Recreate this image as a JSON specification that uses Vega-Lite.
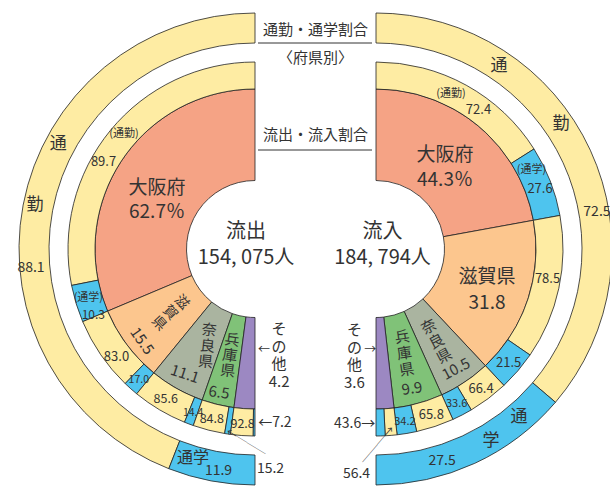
{
"$schema":"https://vega.github.io/schema/vega-lite/v6.json",
"width":610,"height":487,"autosize":"none","padding":0,"background":"white",
"config":{"view":{"stroke":null},"text":{"font":"Noto Sans CJK JP","color":"#333333"},"arc":{"stroke":"#222222","strokeWidth":0.8},"rule":{"color":"#333333"}},
"datasets":{
"inner":[
{"side":"流出","pref":"大阪府","share":62.7,"ord":1},
{"side":"流出","pref":"滋賀県","share":15.5,"ord":2},
{"side":"流出","pref":"奈良県","share":11.1,"ord":3},
{"side":"流出","pref":"兵庫県","share":6.5,"ord":4},
{"side":"流出","pref":"その他","share":4.2,"ord":5},
{"side":"流入","pref":"大阪府","share":44.3,"ord":1},
{"side":"流入","pref":"滋賀県","share":31.8,"ord":2},
{"side":"流入","pref":"奈良県","share":10.5,"ord":3},
{"side":"流入","pref":"兵庫県","share":9.9,"ord":4},
{"side":"流入","pref":"その他","share":3.6,"ord":5}
],
"mid":[
{"side":"流出","pref":"大阪府","type":"通勤","pct":89.7,"part":56.24,"ord":1},
{"side":"流出","pref":"大阪府","type":"通学","pct":10.3,"part":6.46,"ord":2},
{"side":"流出","pref":"滋賀県","type":"通勤","pct":83.0,"part":12.87,"ord":3},
{"side":"流出","pref":"滋賀県","type":"通学","pct":17.0,"part":2.63,"ord":4},
{"side":"流出","pref":"奈良県","type":"通勤","pct":85.6,"part":9.50,"ord":5},
{"side":"流出","pref":"奈良県","type":"通学","pct":14.4,"part":1.60,"ord":6},
{"side":"流出","pref":"兵庫県","type":"通勤","pct":84.8,"part":5.51,"ord":7},
{"side":"流出","pref":"兵庫県","type":"通学","pct":15.2,"part":0.99,"ord":8},
{"side":"流出","pref":"その他","type":"通勤","pct":92.8,"part":3.90,"ord":9},
{"side":"流出","pref":"その他","type":"通学","pct":7.2,"part":0.30,"ord":10},
{"side":"流入","pref":"大阪府","type":"通勤","pct":72.4,"part":32.07,"ord":1},
{"side":"流入","pref":"大阪府","type":"通学","pct":27.6,"part":12.23,"ord":2},
{"side":"流入","pref":"滋賀県","type":"通勤","pct":78.5,"part":24.96,"ord":3},
{"side":"流入","pref":"滋賀県","type":"通学","pct":21.5,"part":6.84,"ord":4},
{"side":"流入","pref":"奈良県","type":"通勤","pct":66.4,"part":6.97,"ord":5},
{"side":"流入","pref":"奈良県","type":"通学","pct":33.6,"part":3.53,"ord":6},
{"side":"流入","pref":"兵庫県","type":"通勤","pct":65.8,"part":6.51,"ord":7},
{"side":"流入","pref":"兵庫県","type":"通学","pct":34.2,"part":3.39,"ord":8},
{"side":"流入","pref":"その他","type":"通勤","pct":56.4,"part":2.03,"ord":9},
{"side":"流入","pref":"その他","type":"通学","pct":43.6,"part":1.57,"ord":10}
],
"outer":[
{"side":"流出","type":"通勤","pct":88.1,"ord":1},
{"side":"流出","type":"通学","pct":11.9,"ord":2},
{"side":"流入","type":"通勤","pct":72.5,"ord":1},
{"side":"流入","type":"通学","pct":27.5,"ord":2}
],
"totals":[
{"side":"流出","people":154075},
{"side":"流入","people":184794}
]
},
"encoding":{
"x":{"field":"side","type":"nominal","scale":{"type":"band","domain":["流出","中","流入"],"range":[224.75,406.25],"padding":0},"axis":null},
"y":{"field":"side","type":"nominal","scale":{"type":"band","domain":["流出","中","流入"],"range":[249,249],"padding":0},"axis":null}
},
"resolve":{"scale":{"theta":"independent"}},
"layer":[
{
"data":{"name":"inner"},
"transform":[{"filter":"datum.side === '流出'"}],
"encoding":{"theta":{"field":"share","type":"quantitative","stack":true,"scale":{"domain":[0,100],"range":[0,-3.14159265]}},"order":{"field":"ord","type":"quantitative"}},
"layer":[
{"mark":{"type":"arc","radius":160,"radius2":68.5},"encoding":{"color":{"field":"pref","type":"nominal","legend":null,"scale":{"domain":["大阪府","滋賀県","奈良県","兵庫県","その他","通勤","通学"],"range":["#F5A385","#FCC68E","#AAB4A0","#80C278","#9C88C2","#FEECA3","#4EC4EE"]}}}},
{"mark":{"type":"text","radius":109.6,"fontSize":19,"lineHeight":24,"dy":-12},"encoding":{"theta":{"field":"share","type":"quantitative","stack":true,"bandPosition":0.562,"scale":{"domain":[0,100],"range":[0,-3.14159265]}},"text":{"value":{"expr":"datum.pref === '大阪府' ? [datum.pref, format(datum.share, '.1f') + '％'] : ''"}}}},
{"mark":{"type":"text","radius":106.4,"angle":47,"fontSize":14,"lineHeight":15.5,"dy":-15.5},"encoding":{"theta":{"field":"share","type":"quantitative","stack":true,"bandPosition":0.506,"scale":{"domain":[0,100],"range":[0,-3.14159265]}},"text":{"value":{"expr":"datum.pref === '滋賀県' ? split(datum.pref, '') : ''"}}}},
{"mark":{"type":"text","radius":145.7,"angle":55,"fontSize":15},"encoding":{"theta":{"field":"share","type":"quantitative","stack":true,"bandPosition":0.584,"scale":{"domain":[0,100],"range":[0,-3.14159265]}},"text":{"field":"share","type":"quantitative","format":".1f","condition":{"test":"datum.pref !== '滋賀県'","value":""}}}},
{"mark":{"type":"text","radius":108,"angle":6,"fontSize":15,"lineHeight":16,"dy":-16},"encoding":{"theta":{"field":"share","type":"quantitative","stack":true,"bandPosition":0.658,"scale":{"domain":[0,100],"range":[0,-3.14159265]}},"text":{"value":{"expr":"datum.pref === '奈良県' ? split(datum.pref, '') : ''"}}}},
{"mark":{"type":"text","radius":143.3,"angle":18,"fontSize":15},"encoding":{"theta":{"field":"share","type":"quantitative","stack":true,"bandPosition":0.5,"scale":{"domain":[0,100],"range":[0,-3.14159265]}},"text":{"field":"share","type":"quantitative","format":".1f","condition":{"test":"datum.pref !== '奈良県'","value":""}}}},
{"mark":{"type":"text","radius":109.4,"angle":8,"fontSize":15,"lineHeight":15.5,"dy":-15.5},"encoding":{"theta":{"field":"share","type":"quantitative","stack":true,"bandPosition":0.517,"scale":{"domain":[0,100],"range":[0,-3.14159265]}},"text":{"value":{"expr":"datum.pref === '兵庫県' ? split(datum.pref, '') : ''"}}}},
{"mark":{"type":"text","radius":148,"angle":8,"fontSize":15},"encoding":{"theta":{"field":"share","type":"quantitative","stack":true,"bandPosition":0.443,"scale":{"domain":[0,100],"range":[0,-3.14159265]}},"text":{"field":"share","type":"quantitative","format":".1f","condition":{"test":"datum.pref !== '兵庫県'","value":""}}}},
{"mark":{"type":"text","radius":105,"dx":31,"dy":-24.75,"fontSize":15,"lineHeight":17.5},"encoding":{"theta":{"field":"share","type":"quantitative","stack":true,"scale":{"domain":[0,100],"range":[0,-3.14159265]}},"text":{"value":{"expr":"datum.pref === 'その他' ? [substring(datum.pref,0,1), substring(datum.pref,1,2), substring(datum.pref,2,3), format(datum.share,'.1f')] : ''"}}}},
{"mark":{"type":"text","radius":105,"dx":16,"dy":-3.8,"fontSize":12},"encoding":{"theta":{"field":"share","type":"quantitative","stack":true,"scale":{"domain":[0,100],"range":[0,-3.14159265]}},"text":{"value":{"expr":"datum.pref === 'その他' ? '←' : ''"}}}}
]
},
{
"data":{"name":"inner"},
"transform":[{"filter":"datum.side === '流入'"}],
"encoding":{"theta":{"field":"share","type":"quantitative","stack":true,"scale":{"domain":[0,100.1],"range":[0,3.14159265]}},"order":{"field":"ord","type":"quantitative"}},
"layer":[
{"mark":{"type":"arc","radius":160,"radius2":68.5},"encoding":{"color":{"field":"pref","type":"nominal","legend":null,"scale":{"domain":["大阪府","滋賀県","奈良県","兵庫県","その他","通勤","通学"],"range":["#F5A385","#FCC68E","#AAB4A0","#80C278","#9C88C2","#FEECA3","#4EC4EE"]}}}},
{"mark":{"type":"text","radius":106.8,"fontSize":19,"lineHeight":25,"dy":-12.5},"encoding":{"theta":{"field":"share","type":"quantitative","stack":true,"bandPosition":0.505,"scale":{"domain":[0,100.1],"range":[0,3.14159265]}},"text":{"value":{"expr":"datum.pref === '大阪府' ? [datum.pref, format(datum.share, '.1f') + '％'] : ''"}}}},
{"mark":{"type":"text","radius":118.5,"fontSize":19,"lineHeight":26,"dy":-13},"encoding":{"theta":{"field":"share","type":"quantitative","stack":true,"bandPosition":0.539,"scale":{"domain":[0,100.1],"range":[0,3.14159265]}},"text":{"value":{"expr":"datum.pref === '滋賀県' ? [datum.pref, format(datum.share, '.1f')] : ''"}}}},
{"mark":{"type":"text","radius":110.5,"angle":-28,"fontSize":15,"lineHeight":16.5,"dy":-16.5},"encoding":{"theta":{"field":"share","type":"quantitative","stack":true,"bandPosition":0.527,"scale":{"domain":[0,100.1],"range":[0,3.14159265]}},"text":{"value":{"expr":"datum.pref === '奈良県' ? split(datum.pref, '') : ''"}}}},
{"mark":{"type":"text","radius":144.2,"angle":-28,"fontSize":15},"encoding":{"theta":{"field":"share","type":"quantitative","stack":true,"bandPosition":0.5,"scale":{"domain":[0,100.1],"range":[0,3.14159265]}},"text":{"field":"share","type":"quantitative","format":".1f","condition":{"test":"datum.pref !== '奈良県'","value":""}}}},
{"mark":{"type":"text","radius":108.3,"angle":-8.6,"fontSize":15,"lineHeight":16.5,"dy":-16.5},"encoding":{"theta":{"field":"share","type":"quantitative","stack":true,"bandPosition":0.506,"scale":{"domain":[0,100.1],"range":[0,3.14159265]}},"text":{"value":{"expr":"datum.pref === '兵庫県' ? split(datum.pref, '') : ''"}}}},
{"mark":{"type":"text","radius":144.1,"angle":-8.6,"fontSize":15},"encoding":{"theta":{"field":"share","type":"quantitative","stack":true,"bandPosition":0.55,"scale":{"domain":[0,100.1],"range":[0,3.14159265]}},"text":{"field":"share","type":"quantitative","format":".1f","condition":{"test":"datum.pref !== '兵庫県'","value":""}}}},
{"mark":{"type":"text","radius":105,"dx":-27.5,"dy":-23.75,"fontSize":15,"lineHeight":17.5},"encoding":{"theta":{"field":"share","type":"quantitative","stack":true,"scale":{"domain":[0,100.1],"range":[0,3.14159265]}},"text":{"value":{"expr":"datum.pref === 'その他' ? [substring(datum.pref,0,1), substring(datum.pref,1,2), substring(datum.pref,2,3), format(datum.share,'.1f')] : ''"}}}},
{"mark":{"type":"text","radius":105,"dx":-11.8,"dy":-3.8,"fontSize":12},"encoding":{"theta":{"field":"share","type":"quantitative","stack":true,"scale":{"domain":[0,100.1],"range":[0,3.14159265]}},"text":{"value":{"expr":"datum.pref === 'その他' ? '→' : ''"}}}}
]
},
{
"data":{"name":"mid"},
"transform":[{"filter":"datum.side === '流出'"}],
"encoding":{"theta":{"field":"part","type":"quantitative","stack":true,"scale":{"domain":[0,100],"range":[0,-3.14159265]}},"order":{"field":"ord","type":"quantitative"}},
"layer":[
{"mark":{"type":"arc","radius":187,"radius2":160},"encoding":{"color":{"field":"type","type":"nominal","legend":null,"scale":{"domain":["大阪府","滋賀県","奈良県","兵庫県","その他","通勤","通学"],"range":["#F5A385","#FCC68E","#AAB4A0","#80C278","#9C88C2","#FEECA3","#4EC4EE"]}}}},
{"mark":{"type":"text","radius":175},"encoding":{"theta":{"field":"part","type":"quantitative","stack":true,"scale":{"domain":[0,100],"range":[0,-3.14159265]}},"text":{"field":"pct","type":"quantitative","format":".1f","condition":{"test":"datum.pref === '大阪府' || (datum.pref === '滋賀県' && datum.type === '通勤') || (datum.pref === '兵庫県' && datum.type === '通学') || (datum.pref === 'その他' && datum.type === '通学')","value":""}},"size":{"condition":{"test":"datum.pct < 18","value":10.5},"value":12.5}}},
{"mark":{"type":"text","radius":174.3,"fontSize":11},"encoding":{"theta":{"field":"part","type":"quantitative","stack":true,"bandPosition":0.481,"scale":{"domain":[0,100],"range":[0,-3.14159265]}},"text":{"value":{"expr":"datum.pref === '大阪府' && datum.type === '通勤' ? '(' + datum.type + ')' : ''"}}}},
{"mark":{"type":"text","radius":174.7,"fontSize":13},"encoding":{"theta":{"field":"part","type":"quantitative","stack":true,"bandPosition":0.594,"scale":{"domain":[0,100],"range":[0,-3.14159265]}},"text":{"field":"pct","type":"quantitative","format":".1f","condition":{"test":"!(datum.pref === '大阪府' && datum.type === '通勤')","value":""}}}},
{"mark":{"type":"text","radius":173.8,"fontSize":11},"encoding":{"theta":{"field":"part","type":"quantitative","stack":true,"bandPosition":0.453,"scale":{"domain":[0,100],"range":[0,-3.14159265]}},"text":{"value":{"expr":"datum.pref === '大阪府' && datum.type === '通学' ? '(' + datum.type + ')' : ''"}}}},
{"mark":{"type":"text","radius":174.6,"fontSize":12},"encoding":{"theta":{"field":"part","type":"quantitative","stack":true,"bandPosition":0.94,"scale":{"domain":[0,100],"range":[0,-3.14159265]}},"text":{"field":"pct","type":"quantitative","format":".1f","condition":{"test":"!(datum.pref === '大阪府' && datum.type === '通学')","value":""}}}},
{"mark":{"type":"text","radius":175.9,"fontSize":13},"encoding":{"theta":{"field":"part","type":"quantitative","stack":true,"bandPosition":0.656,"scale":{"domain":[0,100],"range":[0,-3.14159265]}},"text":{"field":"pct","type":"quantitative","format":".1f","condition":{"test":"!(datum.pref === '滋賀県' && datum.type === '通勤')","value":""}}}},
{"mark":{"type":"text","radius":174,"dx":41.1,"dy":47.4,"fontSize":14},"encoding":{"theta":{"field":"part","type":"quantitative","stack":true,"scale":{"domain":[0,100],"range":[0,-3.14159265]}},"text":{"field":"pct","type":"quantitative","format":".1f","condition":{"test":"!(datum.pref === '兵庫県' && datum.type === '通学')","value":""}}}},
{"mark":{"type":"text","radius":174,"angle":31.3,"dx":25.5,"dy":10.5,"fontSize":11.2},"encoding":{"theta":{"field":"part","type":"quantitative","stack":true,"scale":{"domain":[0,100],"range":[0,-3.14159265]}},"text":{"value":{"expr":"datum.pref === '兵庫県' && datum.type === '通学' ? '←───' : ''"}}}},
{"mark":{"type":"text","radius":174,"dx":4,"dy":0.5,"align":"left","fontSize":14},"encoding":{"theta":{"field":"part","type":"quantitative","stack":true,"scale":{"domain":[0,100],"range":[0,-3.14159265]}},"text":{"value":{"expr":"datum.pref === 'その他' && datum.type === '通学' ? '←' + format(datum.pct, '.1f') : ''"}}}}
]
},
{
"data":{"name":"mid"},
"transform":[{"filter":"datum.side === '流入'"}],
"encoding":{"theta":{"field":"part","type":"quantitative","stack":true,"scale":{"domain":[0,100.1],"range":[0,3.14159265]}},"order":{"field":"ord","type":"quantitative"}},
"layer":[
{"mark":{"type":"arc","radius":187,"radius2":160},"encoding":{"color":{"field":"type","type":"nominal","legend":null,"scale":{"domain":["大阪府","滋賀県","奈良県","兵庫県","その他","通勤","通学"],"range":["#F5A385","#FCC68E","#AAB4A0","#80C278","#9C88C2","#FEECA3","#4EC4EE"]}}}},
{"mark":{"type":"text","radius":175},"encoding":{"theta":{"field":"part","type":"quantitative","stack":true,"scale":{"domain":[0,100.1],"range":[0,3.14159265]}},"text":{"field":"pct","type":"quantitative","format":".1f","condition":{"test":"datum.pref === '大阪府' || datum.pref === 'その他' || (datum.pref === '滋賀県' && datum.type === '通勤')","value":""}},"size":{"condition":{"test":"(datum.pref === '奈良県' || datum.pref === '兵庫県') && datum.type === '通学'","value":11},"value":13}}},
{"mark":{"type":"text","radius":172.6,"fontSize":11},"encoding":{"theta":{"field":"part","type":"quantitative","stack":true,"bandPosition":0.447,"scale":{"domain":[0,100.1],"range":[0,3.14159265]}},"text":{"value":{"expr":"datum.pref === '大阪府' && datum.type === '通勤' ? '(' + datum.type + ')' : ''"}}}},
{"mark":{"type":"text","radius":172.7,"fontSize":13},"encoding":{"theta":{"field":"part","type":"quantitative","stack":true,"bandPosition":0.631,"scale":{"domain":[0,100.1],"range":[0,3.14159265]}},"text":{"field":"pct","type":"quantitative","format":".1f","condition":{"test":"!(datum.pref === '大阪府' && datum.type === '通勤')","value":""}}}},
{"mark":{"type":"text","radius":174.2,"fontSize":11},"encoding":{"theta":{"field":"part","type":"quantitative","stack":true,"bandPosition":0.25,"scale":{"domain":[0,100.1],"range":[0,3.14159265]}},"text":{"value":{"expr":"datum.pref === '大阪府' && datum.type === '通学' ? '(' + datum.type + ')' : ''"}}}},
{"mark":{"type":"text","radius":174.5,"fontSize":13},"encoding":{"theta":{"field":"part","type":"quantitative","stack":true,"bandPosition":0.563,"scale":{"domain":[0,100.1],"range":[0,3.14159265]}},"text":{"field":"pct","type":"quantitative","format":".1f","condition":{"test":"!(datum.pref === '大阪府' && datum.type === '通学')","value":""}}}},
{"mark":{"type":"text","radius":174.1,"fontSize":13},"encoding":{"theta":{"field":"part","type":"quantitative","stack":true,"bandPosition":0.451,"scale":{"domain":[0,100.1],"range":[0,3.14159265]}},"text":{"field":"pct","type":"quantitative","format":".1f","condition":{"test":"!(datum.pref === '滋賀県' && datum.type === '通勤')","value":""}}}},
{"mark":{"type":"text","radius":174,"dx":-33.6,"dy":51.1,"fontSize":14},"encoding":{"theta":{"field":"part","type":"quantitative","stack":true,"scale":{"domain":[0,100.1],"range":[0,3.14159265]}},"text":{"field":"pct","type":"quantitative","format":".1f","condition":{"test":"!(datum.pref === 'その他' && datum.type === '通勤')","value":""}}}},
{"mark":{"type":"text","radius":174,"angle":-49.4,"dx":-25.2,"dy":6.1,"fontSize":11.5},"encoding":{"theta":{"field":"part","type":"quantitative","stack":true,"scale":{"domain":[0,100.1],"range":[0,3.14159265]}},"text":{"value":{"expr":"datum.pref === 'その他' && datum.type === '通勤' ? '───→' : ''"}}}},
{"mark":{"type":"text","radius":174,"dx":-5,"dy":1,"align":"right","fontSize":14},"encoding":{"theta":{"field":"part","type":"quantitative","stack":true,"scale":{"domain":[0,100.1],"range":[0,3.14159265]}},"text":{"value":{"expr":"datum.pref === 'その他' && datum.type === '通学' ? format(datum.pct, '.1f') + '→' : ''"}}}}
]
},
{
"data":{"name":"outer"},
"transform":[{"filter":"datum.side === '流出'"}],
"encoding":{"theta":{"field":"pct","type":"quantitative","stack":true,"scale":{"domain":[0,100],"range":[0,-3.14159265]}},"order":{"field":"ord","type":"quantitative"}},
"layer":[
{"mark":{"type":"arc","radius":236,"radius2":206},"encoding":{"color":{"field":"type","type":"nominal","legend":null,"scale":{"domain":["大阪府","滋賀県","奈良県","兵庫県","その他","通勤","通学"],"range":["#F5A385","#FCC68E","#AAB4A0","#80C278","#9C88C2","#FEECA3","#4EC4EE"]}}}},
{"mark":{"type":"text","radius":223.2,"fontSize":17},"encoding":{"theta":{"field":"pct","type":"quantitative","stack":true,"bandPosition":0.39,"scale":{"domain":[0,100],"range":[0,-3.14159265]}},"text":{"value":{"expr":"datum.type === '通勤' ? substring(datum.type, 0, 1) : ''"}}}},
{"mark":{"type":"text","radius":224.4,"fontSize":17},"encoding":{"theta":{"field":"pct","type":"quantitative","stack":true,"bandPosition":0.496,"scale":{"domain":[0,100],"range":[0,-3.14159265]}},"text":{"value":{"expr":"datum.type === '通勤' ? substring(datum.type, 1, 2) : ''"}}}},
{"mark":{"type":"text","radius":224.8,"fontSize":14},"encoding":{"theta":{"field":"pct","type":"quantitative","stack":true,"bandPosition":0.598,"scale":{"domain":[0,100],"range":[0,-3.14159265]}},"text":{"field":"pct","type":"quantitative","format":".1f","condition":{"test":"datum.type !== '通勤'","value":""}}}},
{"mark":{"type":"text","radius":218,"fontSize":16},"encoding":{"theta":{"field":"pct","type":"quantitative","stack":true,"bandPosition":0.23,"scale":{"domain":[0,100],"range":[0,-3.14159265]}},"text":{"value":{"expr":"datum.type === '通学' ? datum.type : ''"}}}},
{"mark":{"type":"text","radius":225,"fontSize":14},"encoding":{"theta":{"field":"pct","type":"quantitative","stack":true,"bandPosition":0.564,"scale":{"domain":[0,100],"range":[0,-3.14159265]}},"text":{"field":"pct","type":"quantitative","format":".1f","condition":{"test":"datum.type !== '通学'","value":""}}}}
]
},
{
"data":{"name":"outer"},
"transform":[{"filter":"datum.side === '流入'"}],
"encoding":{"theta":{"field":"pct","type":"quantitative","stack":true,"scale":{"domain":[0,100],"range":[0,3.14159265]}},"order":{"field":"ord","type":"quantitative"}},
"layer":[
{"mark":{"type":"arc","radius":236,"radius2":206},"encoding":{"color":{"field":"type","type":"nominal","legend":null,"scale":{"domain":["大阪府","滋賀県","奈良県","兵庫県","その他","通勤","通学"],"range":["#F5A385","#FCC68E","#AAB4A0","#80C278","#9C88C2","#FEECA3","#4EC4EE"]}}}},
{"mark":{"type":"text","radius":220.5,"fontSize":17},"encoding":{"theta":{"field":"pct","type":"quantitative","stack":true,"bandPosition":0.26,"scale":{"domain":[0,100],"range":[0,3.14159265]}},"text":{"value":{"expr":"datum.type === '通勤' ? substring(datum.type, 0, 1) : ''"}}}},
{"mark":{"type":"text","radius":223.3,"fontSize":17},"encoding":{"theta":{"field":"pct","type":"quantitative","stack":true,"bandPosition":0.429,"scale":{"domain":[0,100],"range":[0,3.14159265]}},"text":{"value":{"expr":"datum.type === '通勤' ? substring(datum.type, 1, 2) : ''"}}}},
{"mark":{"type":"text","radius":224,"fontSize":14},"encoding":{"theta":{"field":"pct","type":"quantitative","stack":true,"bandPosition":0.617,"scale":{"domain":[0,100],"range":[0,3.14159265]}},"text":{"field":"pct","type":"quantitative","format":".1f","condition":{"test":"datum.type !== '通勤'","value":""}}}},
{"mark":{"type":"text","radius":220.6,"fontSize":17},"encoding":{"theta":{"field":"pct","type":"quantitative","stack":true,"bandPosition":0.184,"scale":{"domain":[0,100],"range":[0,3.14159265]}},"text":{"value":{"expr":"datum.type === '通学' ? substring(datum.type, 0, 1) : ''"}}}},
{"mark":{"type":"text","radius":223.8,"fontSize":17},"encoding":{"theta":{"field":"pct","type":"quantitative","stack":true,"bandPosition":0.376,"scale":{"domain":[0,100],"range":[0,3.14159265]}},"text":{"value":{"expr":"datum.type === '通学' ? substring(datum.type, 1, 2) : ''"}}}},
{"mark":{"type":"text","radius":222,"fontSize":14},"encoding":{"theta":{"field":"pct","type":"quantitative","stack":true,"bandPosition":0.65,"scale":{"domain":[0,100],"range":[0,3.14159265]}},"text":{"field":"pct","type":"quantitative","format":".1f","condition":{"test":"datum.type !== '通学'","value":""}}}}
]
},
{
"data":{"name":"totals"},
"layer":[
{"transform":[{"filter":"datum.side === '流出'"}],"mark":{"type":"text","fontSize":20,"lineHeight":26,"dx":-9,"dy":-17},"encoding":{"text":{"value":{"expr":"[datum.side, replace(format(datum.people, ','), ',', ', ') + '人']"}}}},
{"transform":[{"filter":"datum.side === '流入'"}],"mark":{"type":"text","fontSize":20,"lineHeight":26,"dx":6.5,"dy":-17},"encoding":{"text":{"value":{"expr":"[datum.side, replace(format(datum.people, ','), ',', ', ') + '人']"}}}}
]
},
{
"data":{"values":[{}]},
"layer":[
{"mark":{"type":"text","text":"通勤・通学割合","fontSize":15,"dy":-219},"encoding":{"x":{"datum":"中","axis":null},"y":{"datum":"中","axis":null}}},
{"mark":{"type":"text","text":"〈府県別〉","fontSize":15,"dy":-191},"encoding":{"x":{"datum":"中","axis":null},"y":{"datum":"中","axis":null}}},
{"mark":{"type":"text","text":"流出・流入割合","fontSize":15,"dy":-114},"encoding":{"x":{"datum":"中","axis":null},"y":{"datum":"中","axis":null}}},
{"mark":{"type":"rule","xOffset":3,"x2Offset":-4,"yOffset":-206,"strokeWidth":1},"encoding":{"x":{"datum":"流出","axis":null},"x2":{"datum":"流入"},"y":{"datum":"中","axis":null}}},
{"mark":{"type":"rule","xOffset":3,"x2Offset":-4,"yOffset":-99,"strokeWidth":1},"encoding":{"x":{"datum":"流出","axis":null},"x2":{"datum":"流入"},"y":{"datum":"中","axis":null}}}
]
}
]
}
